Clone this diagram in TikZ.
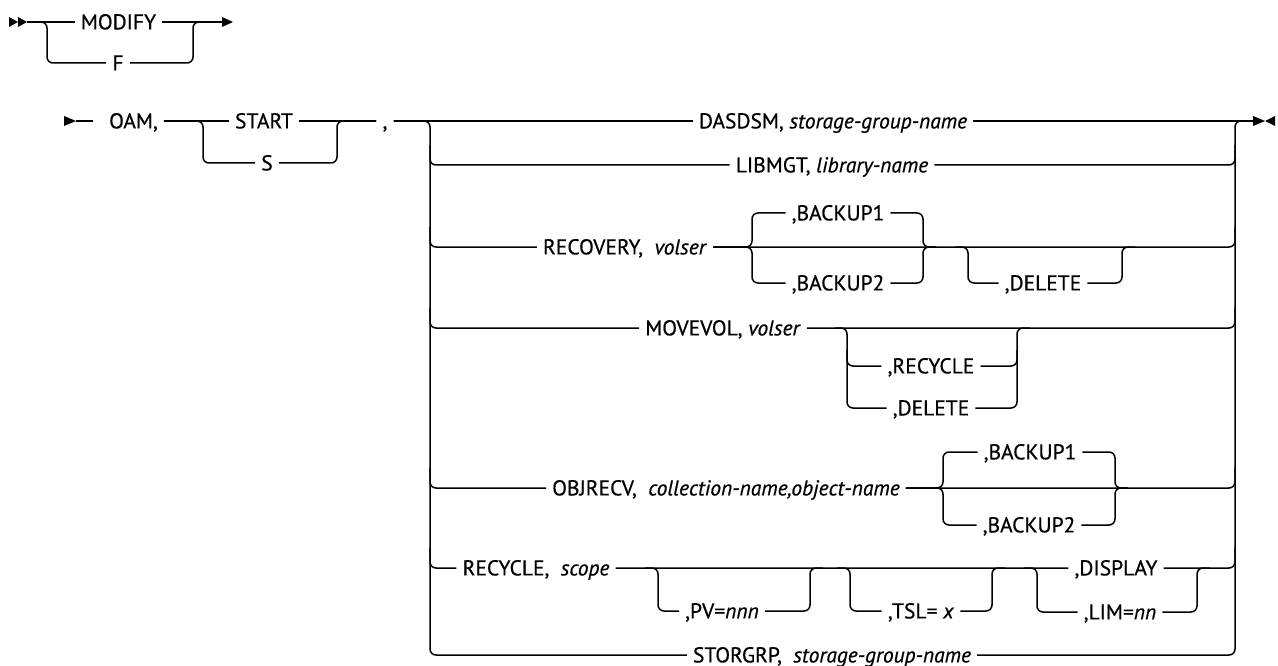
\documentclass[tikz,border=0pt]{standalone}
\usepackage{fontspec}
\setmainfont{PT Sans}[FakeBold=0.6]
\usetikzlibrary{calc}
\begin{document}
\begin{tikzpicture}[x=1pt,y=-1pt,
  rr/.style={line width=1.5pt, rounded corners=6pt},
  tip/.style={fill=black, draw=none},
  lbl/.style={font=\fontsize{21.5}{24}\selectfont, inner xsep=6pt, inner ysep=0pt,
              text height=14.8pt, text depth=0pt, anchor=center}]
\useasboundingbox (0,0) rectangle (1278,666);
% ---------- row 1 ----------
\coordinate (r1s) at (27,22);
\coordinate (r1e) at (222,22);
\node[lbl] (modify) at (118.5,22) {MODIFY};
\node[lbl] (f) at (118,63) {F};
\fill[tip] (9,17) -- (18,22) -- (9,27) -- cycle;
\fill[tip] (18,17) -- (27,22) -- (18,27) -- cycle;
\fill[tip] (r1e) ++(0,-5) -- ++(11,5) -- ++(-11,5) -- cycle;
\draw[rr] (r1s) -- (modify) -- (r1e);
\draw[rr] (r1s) -| (47,63) -- (f) -| (193,22) -- (r1e);
% ---------- row 2 ----------
\coordinate (r2s) at (76,121);
\coordinate (r2a) at (93,121);
\fill[tip] (64,116) -- (76,121) -- (64,126) -- cycle;
\node[lbl] (oam) at (133.5,121) {OAM,};
\node[lbl] (start) at (264,121) {START};
\node[lbl] (s) at (267,163) {S};
\node[lbl] (comma) at (385,121) {,};
\draw[rr] (r2s) -- (r2a);
\draw[rr] (oam) -- (start) -- (comma);
\draw[rr] (oam) -| (203,163) -- (s) -| (337,121) -- (comma);
% ---------- alternatives ----------
\node[lbl] (dasdsm) at (833,121) {DASDSM, \textit{storage-group-name}};
\node[lbl] (libmgt) at (832,165) {LIBMGT, \textit{library-name}};
\node[lbl] (recovery) at (625,247) {RECOVERY,\ \ \textit{volser}};
\node[lbl] (bk1a) at (838,213) {,BACKUP1};
\node[lbl] (bk2a) at (838,283) {,BACKUP2};
\node[lbl] (dela) at (1043,283) {,DELETE};
\node[lbl] (movevol) at (723,328) {MOVEVOL, \textit{volser}};
\node[lbl] (recyc) at (931,366) {,RECYCLE};
\node[lbl] (delb) at (931,408) {,DELETE};
\node[lbl] (objrecv) at (726,488) {OBJRECV,\ \ \textit{collection-name,object-name}};
\node[lbl] (bk1b) at (1030,452) {,BACKUP1};
\node[lbl] (bk2b) at (1029,525) {,BACKUP2};
\node[lbl] (recycle) at (536,568) {RECYCLE,\ \ \textit{scope}};
\node[lbl] (pv) at (722,611) {,PV=\textit{nnn}};
\node[lbl] (tsl) at (921,611) {,TSL= \textit{x}};
\node[lbl] (display) at (1116,568) {,DISPLAY};
\node[lbl] (lim) at (1120,612) {,LIM=\textit{nn}};
\node[lbl] (storgrp) at (832,655) {STORGRP,\ \ \textit{storage-group-name}};
% end symbol
\coordinate (fin) at (1253,121);
\fill[tip] (1253,116) -- (1265,121) -- (1253,126) -- cycle;
\fill[tip] (1275,116) -- (1265,121) -- (1275,126) -- cycle;
% buses
\draw[rr] (comma) -- (dasdsm) -- (fin);
\draw[rr] (comma) -| (430,655) -- (storgrp) -| (1235,121) -- (fin);
% LIBMGT
\draw[rr] (430,145) |- (libmgt) -| (1235,145);
% RECOVERY
\draw[rr] (430,227) |- (recovery) -| (1235,227);
\draw[rr] (recovery) -| (752,213) -- (bk1a) -| (923,247) -- (936,247);
\draw[rr] (recovery) -| (752,283) -- (bk2a) -| (923,247) -- (936,247);
\draw[rr] (955,247) -| (968,283) -- (dela) -| (1122,247) -- (1135,247);
% MOVEVOL
\draw[rr] (430,308) |- (movevol) -| (1235,308);
\draw[rr] (835,328) -| (847,408) -- (delb) -| (1017,328) -- (1030,328);
\draw[rr] (847,350) |- (recyc) -| (1017,350);
% OBJRECV
\draw[rr] (430,468) |- (objrecv) -| (1235,468);
\draw[rr] (objrecv) -| (943,452) -- (bk1b) -| (1115,488) -- (1128,488);
\draw[rr] (objrecv) -| (943,525) -- (bk2b) -| (1115,488) -- (1128,488);
% RECYCLE
\draw[rr] (430,548) |- (recycle) -- (display) -| (1235,548);
\draw[rr] (645,568) -| (658,611) -- (pv) -| (810,568) -- (823,568);
\draw[rr] (837,568) -| (850,611) -- (tsl) -| (992,568) -- (1005,568);
\draw[rr] (1024,568) -| (1037,612) -- (lim) -| (1197,568) -- (1210,568);
\end{tikzpicture}
\end{document}
